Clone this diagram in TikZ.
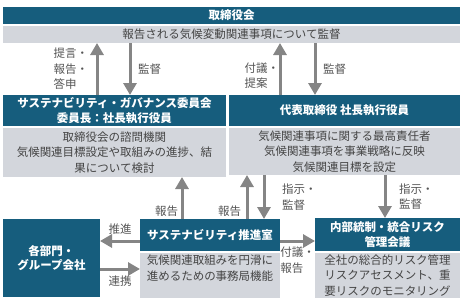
\documentclass[tikz,border=0pt]{standalone}
\usepackage{fontspec}
\setmainfont{Noto Sans CJK JP}
\usetikzlibrary{arrows.meta,positioning,calc}
\definecolor{boardblue}{RGB}{22,93,125}
\definecolor{notegray}{RGB}{211,214,220}
\definecolor{notetext}{RGB}{68,68,68}
\definecolor{arrowgray}{RGB}{133,133,133}
\definecolor{labeltext}{RGB}{85,85,85}

\begin{document}
\begin{tikzpicture}[x=1pt,y=-1pt,>={Triangle[length=12pt,width=13pt]},
  every node/.style={align=center,inner sep=0pt,outer sep=0pt,font=\fontsize{11.5}{15.5}\selectfont},
  head/.style={fill=boardblue,text=white,font=\fontsize{11.5}{14.5}\selectfont\bfseries},
  note/.style={fill=notegray,text=notetext},
  flow/.style={->,draw=arrowgray,line width=3pt},
  tag/.style={text=labeltext}]
  \useasboundingbox (0,0) rectangle (467,303);
  % board of directors
  \node[head,anchor=north west,minimum width=457pt,minimum height=17pt] (board) at (3,7) {取締役会};
  \node[note,minimum width=457pt,minimum height=17pt,below=2pt of board] (boardnote)
    {報告される気候変動関連事項について監督};
  % committee and president
  \node[head,anchor=north west,minimum width=223pt,minimum height=31pt] (cmte) at (3,95)
    {サステナビリティ・ガバナンス委員会\\委員長：社長執行役員};
  \node[note,minimum width=223pt,minimum height=49pt,below=2pt of cmte] (cmtenote)
    {取締役会の諮問機関\\気候関連目標設定や取組みの進捗、結\\果について検討};
  \node[head,anchor=north west,minimum width=231pt,minimum height=31pt] (ceo) at (229,95)
    {代表取締役 社長執行役員};
  \node[note,minimum width=231pt,minimum height=47pt,below=2pt of ceo] (ceonote)
    {気候関連事項に関する最高責任者\\気候関連事項を事業戦略に反映\\気候関連目標を設定};
  % bottom row
  \node[head,anchor=north west,minimum width=97pt,minimum height=78pt] (dept) at (3,219)
    {各部門・\\グループ会社};
  \node[head,anchor=north west,minimum width=140pt,minimum height=32pt] (office) at (140,219)
    {サステナビリティ推進室};
  \node[note,minimum width=140pt,minimum height=45pt,below=2pt of office] (officenote)
    {気候関連取組みを円滑に\\進めるための事務局機能\\\mbox{}};
  \node[head,anchor=north west,minimum width=145pt,minimum height=33pt] (risk) at (315,218)
    {内部統制・統合リスク\\管理会議};
  \node[note,minimum width=145pt,minimum height=45pt,below=2pt of risk] (risknote)
    {全社の総合的リスク管理\\リスクアセスメント、重\\要リスクのモニタリング};

  \draw[flow] ($(cmte.north)+(-17.5,0)$) -- node[tag,left=9pt,align=left]{提言・\\報告・\\答申}
    ($(cmte.north |- boardnote.south)+(-17.5,0)$);
  \draw[flow] ($(cmte.north |- boardnote.south)+(15.5,0)$) -- node[tag,right=8pt]{監督}
    ($(cmte.north)+(15.5,0)$);
  \draw[flow] ($(ceo.north)+(-64.5,0)$) -- node[tag,pos=0.37,left=1pt,align=left]{付議・\\提案}
    ($(ceo.north |- boardnote.south)+(-64.5,0)$);
  \draw[flow] ($(ceo.north |- boardnote.south)+(-29.5,0)$) -- node[tag,right=8pt]{監督}
    ($(ceo.north)+(-29.5,0)$);

  \draw[flow] ($(office.north)+(-28,0)$) -- node[tag,pos=0.18,left=4pt]{報告}
    ($(office.north |- cmtenote.south)+(-28,0)$);
  \draw[flow] ($(office.north)+(37,0)$) -- node[tag,pos=0.18,left=6pt]{報告}
    ($(office.north |- ceonote.south)+(37,0)$);
  \draw[flow] ($(ceonote.south)+(-80.5,0)$) -- node[tag,right=18pt,align=left]{指示・\\監督}
    ($(office.north)+(54,0)$);
  \draw[flow] ($(ceonote.south)+(40.5,0)$) -- node[tag,right=14pt,align=left]{指示・\\監督}
    ($(risk.north)+(-2.5,0)$);

  \draw[flow] ($(office.west)+(0,6)$) -- node[tag,above=7pt]{推進}
    ($(dept.east |- office.west)+(0,6)$);
  \draw[flow] ($(dept.east |- officenote.west)+(0,-6.5)$) -- node[tag,below=7pt]{連携}
    ($(officenote.west)+(0,-6.5)$);
  \draw[flow] ($(office.east)+(0,6)$) -- node[tag,below=6pt,align=left]{付議・\\報告}
    ($(risk.west |- office.east)+(0,6)$);
\end{tikzpicture}
\end{document}
